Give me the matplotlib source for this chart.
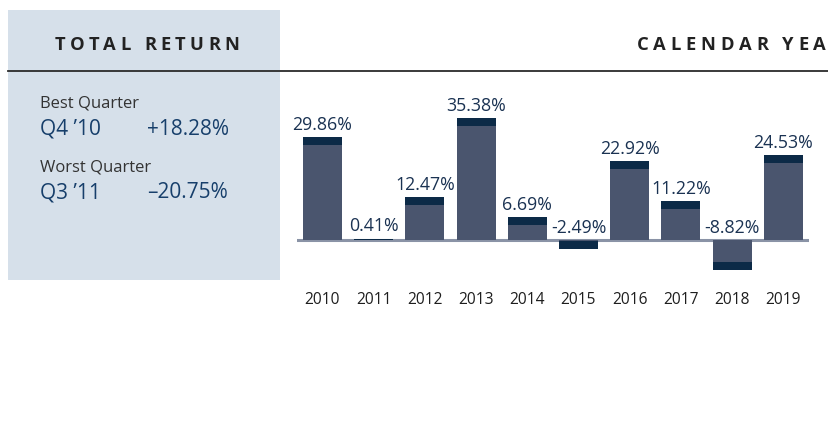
import matplotlib
matplotlib.use("Agg")
import matplotlib.pyplot as plt
from matplotlib.patches import Rectangle

years = ["2010", "2011", "2012", "2013", "2014", "2015", "2016", "2017", "2018", "2019"]
returns = [29.86, 0.41, 12.47, 35.38, 6.69, -2.49, 22.92, 11.22, -8.82, 24.53]
value_labels = ["29.86%", "0.41%", "12.47%", "35.38%", "6.69%", "-2.49%", "22.92%", "11.22%", "-8.82%", "24.53%"]
best_label, best_q, best_val = "Best Quarter", "Q4 \u201910", "+18.28%"
worst_label, worst_q, worst_val = "Worst Quarter", "Q3 \u201911", "\u201320.75%"
left_title = "TOTAL RETURN"
right_title = "CALENDAR YEA"

W, H = 829, 433
DPI = 100
FONT = ["Open Sans", "DejaVu Sans"]
plt.rcParams['font.family'] = FONT

fig = plt.figure(figsize=(W / DPI, H / DPI), dpi=DPI)
fig.patch.set_facecolor("white")

# pixel-coordinate overlay axes (y measured from top)
bg = fig.add_axes([0, 0, 1, 1])
bg.set_xlim(0, W)
bg.set_ylim(H, 0)
bg.axis("off")

bg.add_patch(Rectangle((8, 10), 272, 270, facecolor="#d6e0ea", edgecolor="none", zorder=0))
bg.plot([8, W], [70.5, 70.5], color="#2b2b2b", lw=1.3, zorder=2)

fig.canvas.draw()
renderer = fig.canvas.get_renderer()


def spaced_text(x, y, s, spacing, **kw):
    """Draw letter-spaced text starting at pixel x, baseline y (from top)."""
    cur = x
    for ch in s:
        t = bg.text(cur, y, ch, va="baseline", ha="left", **kw)
        bb = t.get_window_extent(renderer=renderer)
        cur += bb.width + spacing
    return cur


def spaced_width(s, spacing, **kw):
    tot = 0
    for ch in s:
        t = bg.text(0, 0, ch, **kw)
        tot += t.get_window_extent(renderer=renderer).width + spacing
        t.remove()
    return tot - spacing


hdr_kw = dict(fontsize=13.2, fontweight="bold", color="#222222")
wid = spaced_width(left_title, 4.3, **hdr_kw)
spaced_text(147 - wid / 2, 50, left_title, 4.3, **hdr_kw)
spaced_text(637, 50, right_title, 4.7, **hdr_kw)

lab_kw = dict(fontsize=12, color="#333333", va="baseline")
num_kw = dict(fontsize=15, color="#173f6b", va="baseline")
bg.text(40, 108, best_label, **lab_kw)
bg.text(40, 135, best_q, **num_kw)
bg.text(147, 135, best_val, **num_kw)
bg.text(40, 171, worst_label, **lab_kw)
bg.text(40, 198, worst_q, **num_kw)
bg.text(147, 198, worst_val, **num_kw)

# bar chart axes
px_per = 3.45
y0_px = H - 240  # zero line from bottom
ymin, ymax = -15, 40
ax_left = 296.9
ax_w = 512
ax = fig.add_axes([ax_left / W, (y0_px + ymin * px_per) / H, ax_w / W, (ymax - ymin) * px_per / H])
ax.set_xlim(-0.5, 9.5)
ax.set_ylim(ymin, ymax)
ax.axis("off")
ax.patch.set_alpha(0)

body_c = "#4a556e"
cap_c = "#0c2a47"
cap_h = 8 / px_per
xs = list(range(len(years)))
width = 0.76
ax.bar(xs, returns, width=width, color=body_c, zorder=2)
caps = [min(cap_h, abs(v)) for v in returns]
cap_bottom = [v - c if v >= 0 else v for v, c in zip(returns, caps)]
ax.bar(xs, caps, bottom=cap_bottom, width=width, color=cap_c, zorder=3)
ax.axhline(0, color="#8a93a6", lw=2.2, zorder=1)

for x, v, lbl in zip(xs, returns, value_labels):
    ax.annotate(lbl, (x, max(v, 0)), xytext=(0, 5.2), textcoords="offset points",
                ha="center", va="baseline", fontsize=12.8, color="#1a3252", zorder=4)
for x, yr in zip(xs, years):
    ax.annotate(yr, (x, 0), xytext=(0, -(304 - 240) * 0.72), textcoords="offset points",
                ha="center", va="baseline", fontsize=11.2, color="#1e1e1e")

fig.savefig("out.png", dpi=DPI)
